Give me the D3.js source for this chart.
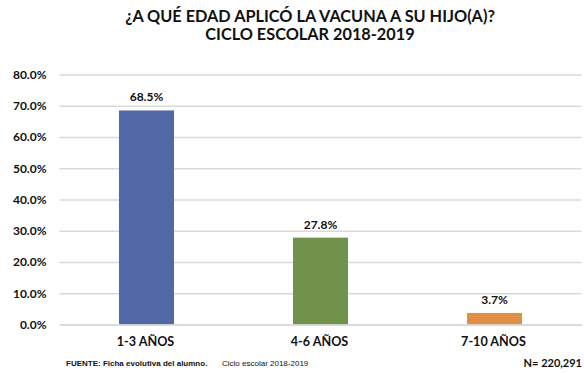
<!DOCTYPE html>
<html>
<head>
<meta charset="utf-8">
<script src="https://cdn.jsdelivr.net/npm/d3@7"></script>
<style>
  html, body { margin: 0; padding: 0; background: #fff; }
  svg { display: block; }
</style>
</head>
<body>
<svg id="chart" width="584" height="373"></svg>
<script>
// Age at which the vaccine was applied, school cycle 2018-2019
const categories = ["1-3 AÑOS", "4-6 AÑOS", "7-10 AÑOS"];
const values = [68.5, 27.8, 3.7];
const colors = ["#5068A5", "#71924A", "#E08F46"];
const yTicks = [0, 10, 20, 30, 40, 50, 60, 70, 80];
const titleLines = ["¿A QUÉ EDAD APLICÓ LA VACUNA A SU HIJO(A)?", "CICLO ESCOLAR 2018-2019"];

const svg = d3.select("#chart");
const font = "Lato, 'Open Sans', sans-serif";

const x = d3.scaleBand().domain(categories).range([59.5, 581.5]).paddingInner(0.684).paddingOuter(0.342);
const y = d3.scaleLinear().domain([0, 80]).range([324.5, 74.5]);

// Title
svg.append("g").selectAll("text").data(titleLines).join("text")
  .attr("x", 310).attr("y", (d, i) => 21.5 + i * 18.5)
  .attr("text-anchor", "middle")
  .attr("font-family", font).attr("font-weight", 700).attr("font-size", 16.3)
  .attr("fill", "#111")
  .text(d => d);

// Gridlines and value axis
const yAxis = d3.axisLeft(y).tickValues(yTicks).tickSize(-(581.5 - 59.5)).tickPadding(13)
  .tickFormat(d => d.toFixed(1) + "%");
const gy = svg.append("g").attr("transform", "translate(59.5,0)").call(yAxis);
gy.select(".domain").remove();
gy.selectAll(".tick line").attr("stroke", "#d9d9d9").attr("stroke-width", 1.3);
gy.selectAll(".tick text")
  .attr("font-family", font).attr("font-weight", 700).attr("font-size", 12).attr("fill", "#111");

// Bars
svg.append("g").selectAll("rect").data(values).join("rect")
  .attr("x", (d, i) => x(categories[i]))
  .attr("width", x.bandwidth())
  .attr("y", d => y(d))
  .attr("height", d => y(0) - y(d))
  .attr("fill", (d, i) => colors[i]);

// Value labels
svg.append("g").selectAll("text").data(values).join("text")
  .attr("x", (d, i) => x(categories[i]) + x.bandwidth() / 2)
  .attr("y", d => y(d) - 9)
  .attr("text-anchor", "middle")
  .attr("font-family", font).attr("font-weight", 700).attr("font-size", 12).attr("fill", "#111")
  .text(d => d.toFixed(1) + "%");

// Category axis
const xAxis = d3.axisBottom(x).tickSize(0).tickPadding(13);
const gx = svg.append("g").attr("transform", "translate(0,324.5)").call(xAxis);
gx.select(".domain").attr("stroke", "#d9d9d9").attr("stroke-width", 1.3);
gx.selectAll(".tick text")
  .attr("font-family", font).attr("font-weight", 700).attr("font-size", 12.6).attr("fill", "#111")
  .attr("dx", -1);

// Footer
const foot = "'Liberation Sans', Arial, sans-serif";
svg.append("text").attr("x", 66).attr("y", 366)
  .attr("font-family", foot).attr("font-weight", 700).attr("font-size", 8).attr("fill", "#111")
  .text("FUENTE: Ficha evolutiva del alumno.");
svg.append("text").attr("x", 222).attr("y", 366)
  .attr("font-family", foot).attr("font-size", 8).attr("fill", "#111")
  .text("Ciclo escolar 2018-2019");
svg.append("text").attr("x", 582).attr("y", 367).attr("text-anchor", "end")
  .attr("font-family", font).attr("font-weight", 700).attr("font-size", 11).attr("fill", "#111")
  .text("N= 220,291");
</script>
</body>
</html>
